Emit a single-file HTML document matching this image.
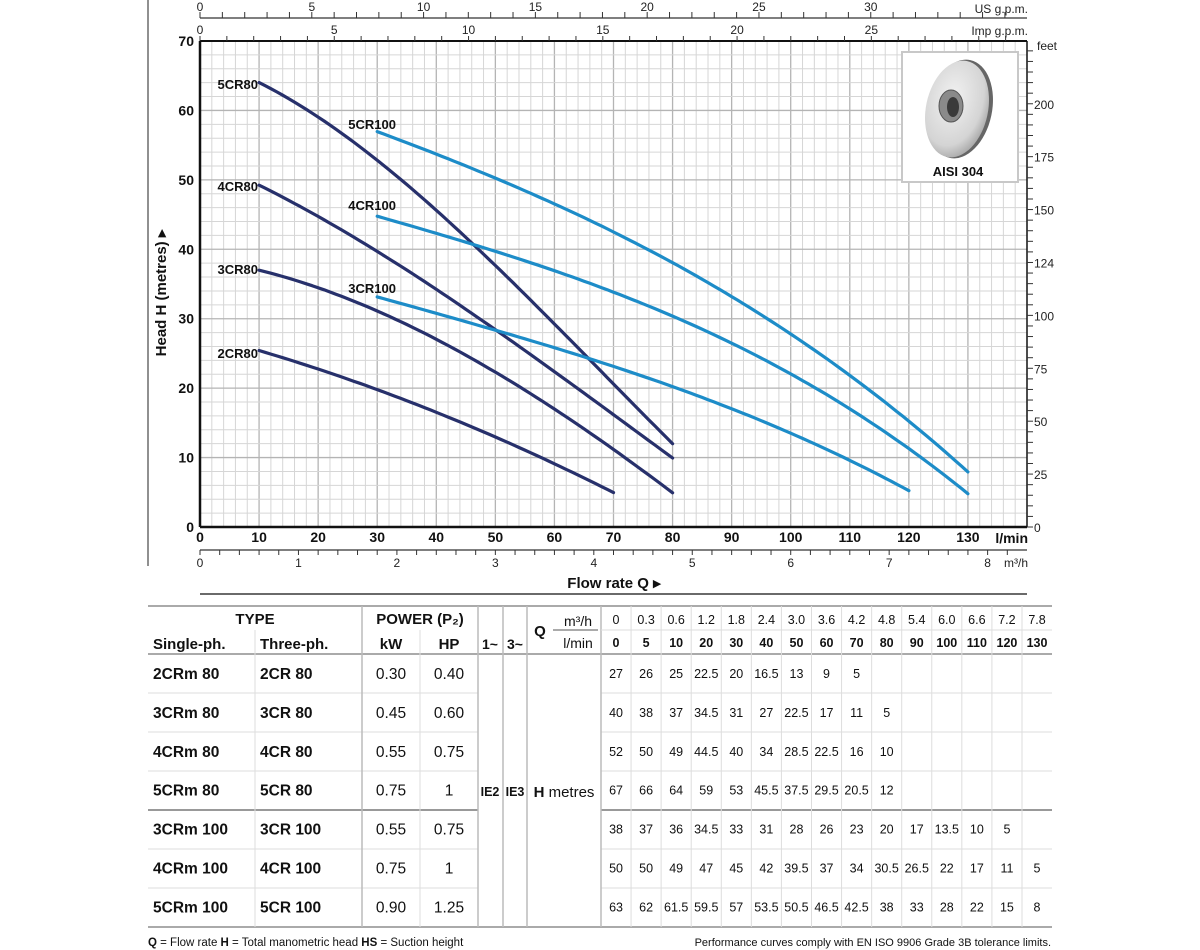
<!DOCTYPE html>
<html><head><meta charset="utf-8"><style>
html,body{margin:0;padding:0;background:#fff;width:1200px;height:950px;overflow:hidden}
svg{display:block}
</style></head><body>
<svg id="s" width="1200" height="950" xmlns="http://www.w3.org/2000/svg" font-family="'Liberation Sans Narrow','Liberation Sans',sans-serif">
<defs>
<radialGradient id="dg" cx="0.4" cy="0.4" r="0.7"><stop offset="0" stop-color="#f2f2f2"/><stop offset="0.7" stop-color="#d4d4d4"/><stop offset="1" stop-color="#9a9a9a"/></radialGradient>
</defs>
<g id="g"></g>
</svg>
<script>
var NS="http://www.w3.org/2000/svg",G=document.getElementById('g');
function el(t,a,txt){var e=document.createElementNS(NS,t);for(var k in a)e.setAttribute(k,a[k]);if(txt!=null)e.textContent=txt;G.appendChild(e);return e;}
function L(x1,y1,x2,y2,c,w){el('line',{x1:x1,y1:y1,x2:x2,y2:y2,stroke:c,'stroke-width':w||1});}
function T(x,y,s,o){var a={x:x,y:y};for(var k in o)a[k]=o[k];el('text',a,s);}
var X0=200,X1=1027,Y0=527,Y1=41,sx=(X1-X0)/140,sy=(Y0-Y1)/70;
function X(q){return X0+q*sx}function Y(h){return Y0-h*sy}
for(var q=2;q<140;q+=2){var maj=q%10==0;L(X(q),Y1,X(q),Y0,maj?'#b4b4b4':'#d6d6d6',maj?1.3:1);}
for(var h=2;h<70;h+=2){var maj=h%10==0;L(X0,Y(h),X1,Y(h),maj?'#b4b4b4':'#d6d6d6',maj?1.3:1);}
L(X0,Y1,X1,Y1,'#111',2);L(X0,Y0,X1,Y0,'#111',2.5);L(X0,Y1,X0,Y0,'#111',2.5);L(X1,Y1,X1,Y0,'#111',1.5);
L(148,0,148,566,'#555',1.3);
for(var h=0;h<=70;h+=10)T(194,Y(h)+5,h,{'font-size':14,'font-weight':'bold','text-anchor':'end',fill:'#111'});
el('text',{x:0,y:0,'font-size':15,'font-weight':'bold',fill:'#111','text-anchor':'middle',transform:'translate(166,293) rotate(-90)'},'Head H (metres) \u25B8');
for(var q=0;q<=130;q+=10)T(X(q),542,q,{'font-size':14,'font-weight':'bold','text-anchor':'middle',fill:'#111'});
T(1028,543,'l/min',{'font-size':14,'font-weight':'bold','text-anchor':'end',fill:'#111'});
L(X0,550,X1,550,'#333',1.2);
for(var m=0;m<=8.4;m+=0.2){var xx=X(m*1000/60);if(xx>X1)break;L(xx,550,xx,555,'#333',1);}
for(var m=0;m<=8;m++)T(X(m*1000/60),567,m,{'font-size':12,'text-anchor':'middle',fill:'#222'});
T(1028,567,'m\u00B3/h',{'font-size':12,'text-anchor':'end',fill:'#222'});
T(614,588,'Flow rate Q \u25B8',{'font-size':15,'font-weight':'bold','text-anchor':'middle',fill:'#111'});
L(X0,18,X1,18,'#333',1.2);
for(var g=0;g<=36;g++){var xx=X(g*3.785);L(xx,12,xx,18,'#333',1);if(g%5==0&&g<=30)T(xx,11,g,{'font-size':12,'text-anchor':'middle',fill:'#222'});}
T(1028,13,'US g.p.m.',{'font-size':12,'text-anchor':'end',fill:'#222'});
for(var g=0;g<=30;g++){var xx=X(g*4.546);L(xx,36,xx,41,'#333',1);if(g%5==0&&g<30)T(xx,34,g,{'font-size':12,'text-anchor':'middle',fill:'#222'});}
T(1028,35,'Imp g.p.m.',{'font-size':12,'text-anchor':'end',fill:'#222'});
for(var f=0;f<=225;f+=5){var yy=Y(f/3.2808);L(X1,yy,X1+6,yy,'#333',1);if(f%25==0&&f<225)T(X1+7,yy+5,f==125?124:f,{'font-size':12,fill:'#222'});}
T(1037,50,'feet',{'font-size':12,fill:'#222'});
// smooth cubic least-squares fit
function fit(pts){var n=4,A=[],b=[];for(var i=0;i<n;i++){A.push([0,0,0,0]);b.push(0);}
pts.forEach(function(p){var x=p[0]/100;for(var i=0;i<n;i++){for(var j=0;j<n;j++)A[i][j]+=Math.pow(x,i+j);b[i]+=p[1]*Math.pow(x,i);}});
for(var i=0;i<n;i++){for(var k=i+1;k<n;k++){var f=A[k][i]/A[i][i];for(var j=i;j<n;j++)A[k][j]-=f*A[i][j];b[k]-=f*b[i];}}
var c=[0,0,0,0];for(var i=n-1;i>=0;i--){var s=b[i];for(var j=i+1;j<n;j++)s-=A[i][j]*c[j];c[i]=s/A[i][i];}
return function(q){var x=q/100;return c[0]+c[1]*x+c[2]*x*x+c[3]*x*x*x;};}
function curve(pts,col){var f=fit(pts),q0=pts[0][0],q1=pts[pts.length-1][0],d='';
for(var q=q0;q<=q1+0.001;q+=1){d+=(d?' L':'M')+X(q).toFixed(1)+','+Y(f(q)).toFixed(1);}
el('path',{d:d,fill:'none',stroke:col,'stroke-width':3.2,'stroke-linecap':'round','stroke-linejoin':'round'});}
function mk(q0,arr){return arr.map(function(h,i){return[q0+i*10,h]});}
var D='#27306b',B='#1d8cc8';
curve(mk(10,[25.5,22.5,20,16.5,13,9,5]),D);
curve(mk(10,[37,34.5,31,27,22.5,17,11,5]),D);
curve(mk(10,[49.3,44.5,40,34,28.5,22.5,16,10]),D);
curve(mk(10,[64,59,53,45.5,37.5,29.5,20.5,12]),D);
curve(mk(30,[33,31,28.3,26,23,20,17,13.5,10,5]),B);
curve(mk(30,[45,42,39.5,37,34,30.5,26.5,22,17,11,5]),B);
curve(mk(30,[57,53.5,50.5,46.5,42.5,38,33,28,22,15,8]),B);
var lb=[['5CR80',258,89],['4CR80',258,191],['3CR80',258,274],['2CR80',258,358],['5CR100',396,129],['4CR100',396,210],['3CR100',396,293]];
lb.forEach(function(a){T(a[1],a[2],a[0],{'font-size':13,'font-weight':'bold','text-anchor':'end',fill:'#111'});});
el('rect',{x:902,y:52,width:116,height:130,fill:'#fff',stroke:'#c8c8c8','stroke-width':2});
el('ellipse',{cx:960,cy:109,rx:32,ry:50,fill:'#666',transform:'rotate(12 960 109)'});
el('ellipse',{cx:957,cy:109,rx:31,ry:49,fill:'url(#dg)',transform:'rotate(12 957 109)'});
el('ellipse',{cx:951,cy:106,rx:12,ry:16,fill:'#8a8a8a',stroke:'#555','stroke-width':1});
el('ellipse',{cx:953,cy:107,rx:6,ry:10,fill:'#3a3a3a'});
T(958,176,'AISI 304',{'font-size':13,'font-weight':'bold','text-anchor':'middle',fill:'#111','font-family':"'Liberation Sans',sans-serif"});
L(200,594,1027,594,'#111',1.3);
var F="'Liberation Sans',sans-serif";
function TT(x,y,s,o){o=o||{};o['font-family']=F;if(!o.fill)o.fill='#111';T(x,y,s,o);}
var cx=[601];for(var i=1;i<=15;i++)cx.push(601+i*30.07);
L(148,606,1052,606,'#aaa',2);
L(148,654,1052,654,'#aaa',2);
var rows=[693,732,771,810,849,888];
rows.forEach(function(y){var th=(y==810);L(148,y,478,y,th?'#999':'#ddd',th?2:1);L(601,y,1052,y,th?'#999':'#ddd',th?2:1);});
L(148,927,1052,927,'#aaa',2);
L(255,630,255,927,'#ddd',1);L(420,630,420,927,'#ddd',1);
[362,478,503,527,601].forEach(function(x){L(x,606,x,927,'#bbb',1.5);});
for(var i=1;i<15;i++)L(cx[i],606,cx[i],927,'#ddd',1);
L(601,630,1052,630,'#ddd',1);L(553,630,598,630,'#555',1);
TT(255,624,'TYPE',{'font-size':15,'font-weight':'bold','text-anchor':'middle'});
TT(420,624,'POWER (P\u2082)',{'font-size':15,'font-weight':'bold','text-anchor':'middle'});
TT(153,649,'Single-ph.',{'font-size':15,'font-weight':'bold'});
TT(260,649,'Three-ph.',{'font-size':15,'font-weight':'bold'});
TT(391,649,'kW',{'font-size':15,'font-weight':'bold','text-anchor':'middle'});
TT(449,649,'HP',{'font-size':15,'font-weight':'bold','text-anchor':'middle'});
TT(490,649,'1~',{'font-size':14,'font-weight':'bold','text-anchor':'middle'});
TT(515,649,'3~',{'font-size':14,'font-weight':'bold','text-anchor':'middle'});
TT(540,636,'Q',{'font-size':15,'font-weight':'bold','text-anchor':'middle'});
TT(578,626,'m\u00B3/h',{'font-size':14,'text-anchor':'middle'});
TT(578,648,'l/min',{'font-size':14,'text-anchor':'middle'});
var m3=['0','0.3','0.6','1.2','1.8','2.4','3.0','3.6','4.2','4.8','5.4','6.0','6.6','7.2','7.8'],lm=['0','5','10','20','30','40','50','60','70','80','90','100','110','120','130'];
for(var i=0;i<15;i++){var c=(cx[i]+cx[i+1])/2;TT(c,624,m3[i],{'font-size':12.5,'text-anchor':'middle'});TT(c,647,lm[i],{'font-size':12.5,'font-weight':'bold','text-anchor':'middle'});}
var data=[['2CRm 80','2CR 80','0.30','0.40',[27,26,25,22.5,20,16.5,13,9,5]],
['3CRm 80','3CR 80','0.45','0.60',[40,38,37,34.5,31,27,22.5,17,11,5]],
['4CRm 80','4CR 80','0.55','0.75',[52,50,49,44.5,40,34,28.5,22.5,16,10]],
['5CRm 80','5CR 80','0.75','1',[67,66,64,59,53,45.5,37.5,29.5,20.5,12]],
['3CRm 100','3CR 100','0.55','0.75',[38,37,36,34.5,33,31,28,26,23,20,17,13.5,10,5]],
['4CRm 100','4CR 100','0.75','1',[50,50,49,47,45,42,39.5,37,34,30.5,26.5,22,17,11,5]],
['5CRm 100','5CR 100','0.90','1.25',[63,62,61.5,59.5,57,53.5,50.5,46.5,42.5,38,33,28,22,15,8]]];
data.forEach(function(r,j){var y=679+j*38.9;
TT(153,y,r[0],{'font-size':15.5,'font-weight':'bold'});TT(260,y,r[1],{'font-size':15.5,'font-weight':'bold'});
TT(391,y,r[2],{'font-size':15.5,'text-anchor':'middle'});TT(449,y,r[3],{'font-size':15.5,'text-anchor':'middle'});
r[4].forEach(function(v,i){TT((cx[i]+cx[i+1])/2,y-1,v,{'font-size':12.5,'text-anchor':'middle'});});});
TT(490,796,'IE2',{'font-size':12.5,'font-weight':'bold','text-anchor':'middle'});
TT(515,796,'IE3',{'font-size':12.5,'font-weight':'bold','text-anchor':'middle'});
el('text',{x:564,y:797,'font-size':15,'text-anchor':'middle','font-family':F,fill:'#111'}).innerHTML='<tspan font-weight="bold">H</tspan> metres';
el('text',{x:148,y:946,'font-size':11.5,'font-family':F,fill:'#111'}).innerHTML='<tspan font-weight="bold">Q</tspan> = Flow rate  <tspan font-weight="bold">H</tspan> = Total manometric head  <tspan font-weight="bold">HS</tspan> = Suction height';
TT(1051,946,'Performance curves comply with EN ISO 9906 Grade 3B tolerance limits.',{'font-size':11,'text-anchor':'end'});
</script>
</body></html>
